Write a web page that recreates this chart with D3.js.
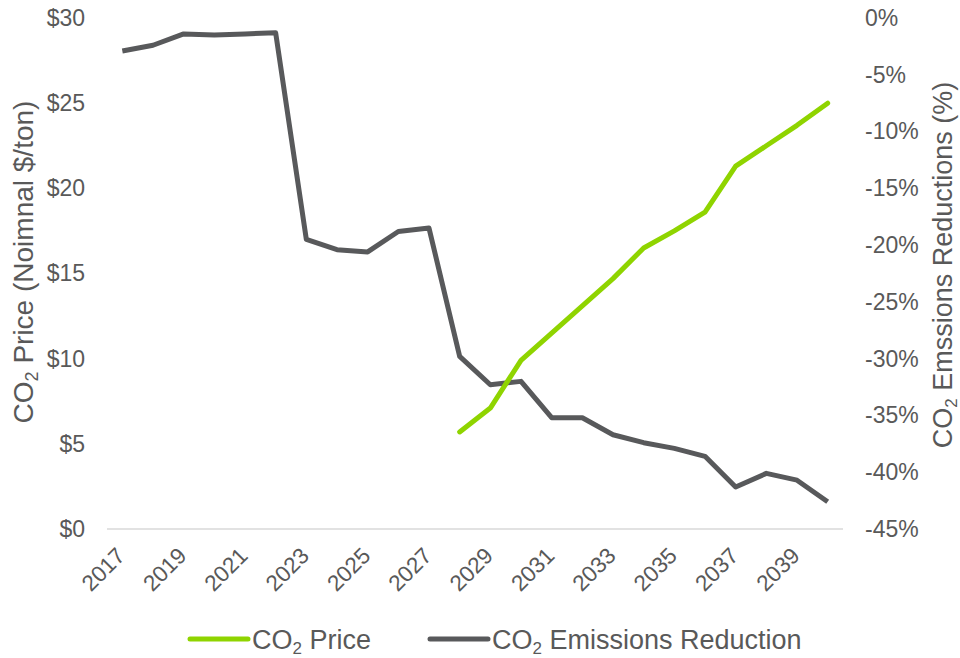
<!DOCTYPE html>
<html>
<head>
<meta charset="utf-8">
<script src="https://cdn.jsdelivr.net/npm/d3@7"></script>
<style>
  body { margin: 0; background: #fff; }
  svg text { font-family: "Liberation Sans", Arial, sans-serif; fill: #595959; }
</style>
</head>
<body>
<svg id="chart" width="960" height="658"></svg>
<script>
// Data
const years = d3.range(2017, 2041);
const priceYears = d3.range(2028, 2041);
const priceValues = [5.7, 7.1, 9.9, 11.5, 13.1, 14.7, 16.5, 17.5, 18.6, 21.3, 22.5, 23.7, 25.0];
const reductionValues = [-2.9, -2.4, -1.4, -1.5, -1.4, -1.3, -19.5, -20.4, -20.6, -18.8, -18.5,
  -29.8, -32.3, -32.0, -35.2, -35.2, -36.7, -37.4, -37.9, -38.6, -41.3, -40.1, -40.7, -42.6];
const priceTicks = [0, 5, 10, 15, 20, 25, 30];
const pctTicks = [0, -5, -10, -15, -20, -25, -30, -35, -40, -45];
const yearLabels = years.filter(y => (y - 2017) % 2 === 0);

const green = "#8fd400";
const dark = "#58595b";

const svg = d3.select("#chart");
const margin = { top: 18, right: 117, bottom: 129, left: 107 };
const width = 960 - margin.left - margin.right;
const height = 658 - margin.top - margin.bottom;

const x = d3.scaleBand().domain(years).range([0, width]);
const yL = d3.scaleLinear().domain([0, 30]).range([height, 0]);
const yR = d3.scaleLinear().domain([-45, 0]).range([height, 0]);

const g = svg.append("g")
  .attr("transform", "translate(" + margin.left + "," + margin.top + ")");

// baseline
g.append("line")
  .attr("x1", 0).attr("x2", width)
  .attr("y1", height).attr("y2", height)
  .attr("stroke", "#d9d9d9").attr("stroke-width", 1.5);

// left axis
const left = g.append("g")
  .call(d3.axisLeft(yL).tickValues(priceTicks).tickSize(0).tickPadding(22).tickFormat(d => "$" + d));
left.select(".domain").remove();
left.selectAll("text").attr("font-size", 23).style("fill", "#595959");

// right axis
const right = g.append("g")
  .attr("transform", "translate(" + width + ",0)")
  .call(d3.axisRight(yR).tickValues(pctTicks).tickSize(0).tickPadding(22).tickFormat(d => d + "%"));
right.select(".domain").remove();
right.selectAll("text").attr("font-size", 23).style("fill", "#595959");

// bottom axis
const bottom = g.append("g")
  .attr("transform", "translate(0," + height + ")")
  .call(d3.axisBottom(x).tickValues(yearLabels).tickSize(0));
bottom.select(".domain").remove();
bottom.selectAll("text")
  .attr("font-size", 22.5)
  .style("fill", "#595959")
  .attr("text-anchor", "end")
  .attr("dy", 0)
  .attr("transform", "translate(2,26) rotate(-45)");

// lines
const cx = d => x(d) + x.bandwidth() / 2;

g.append("path")
  .datum(years.map((yr, i) => [yr, reductionValues[i]]))
  .attr("fill", "none")
  .attr("stroke", dark)
  .attr("stroke-width", 5)
  .attr("stroke-linejoin", "round")
  .attr("d", d3.line().x(d => cx(d[0])).y(d => yR(d[1])));

g.append("path")
  .datum(priceYears.map((yr, i) => [yr, priceValues[i]]))
  .attr("fill", "none")
  .attr("stroke", green)
  .attr("stroke-width", 5)
  .attr("stroke-linejoin", "round")
  .attr("stroke-linecap", "round")
  .attr("d", d3.line().x(d => cx(d[0])).y(d => yL(d[1])));

// axis titles
function co2Title(sel, rest, sub) {
  sel.append("tspan").text("CO");
  sel.append("tspan").attr("font-size", sub).attr("dy", sub * 0.3).text("2");
  sel.append("tspan").attr("dy", -sub * 0.3).text(rest);
}

svg.append("text")
  .attr("transform", "translate(33,262) rotate(-90)")
  .attr("text-anchor", "middle")
  .attr("font-size", 28)
  .call(co2Title, " Price (Noimnal $/ton)", 18);

svg.append("text")
  .attr("transform", "translate(952,265) rotate(-90)")
  .attr("text-anchor", "middle")
  .attr("font-size", 27)
  .call(co2Title, " Emssions Reductions (%)", 17);

// legend
const legendItems = [
  { label: " Price", color: green, x: 190 },
  { label: " Emissions Reduction", color: dark, x: 430 }
];
const legend = svg.append("g").attr("transform", "translate(0,639)");
legendItems.forEach(it => {
  legend.append("line")
    .attr("x1", it.x).attr("x2", it.x + 58)
    .attr("y1", 0).attr("y2", 0)
    .attr("stroke", it.color).attr("stroke-width", 5)
    .attr("stroke-linecap", "round");
  legend.append("text")
    .attr("x", it.x + 62)
    .attr("y", 10)
    .attr("font-size", 27)
    .call(co2Title, it.label, 17);
});
</script>
</body>
</html>
